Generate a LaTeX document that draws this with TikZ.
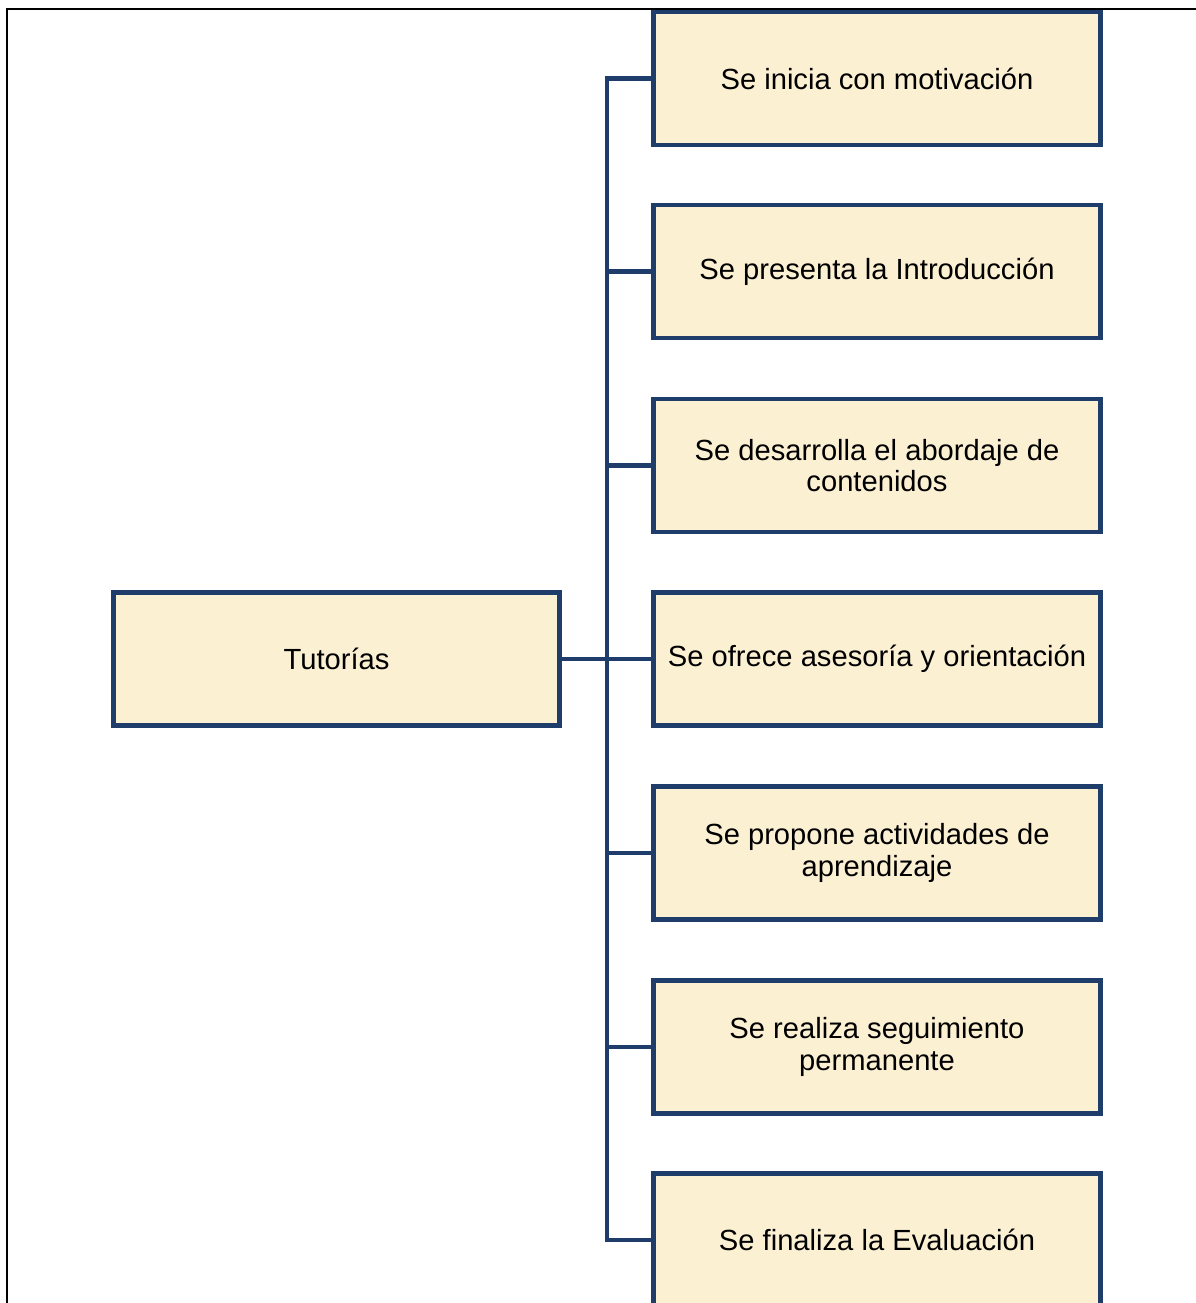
\documentclass[tikz,border=0pt]{standalone}
\usepackage{fontspec}
\setmainfont{Liberation Sans}
\usepackage{tikz}
\usetikzlibrary{positioning, calc}
\definecolor{azulBorde}{HTML}{1F3D6B}
\definecolor{cremaCaja}{HTML}{FCF0D3}

\begin{document}
\begin{tikzpicture}[x=0.02cm, y=-0.02cm,
        font=\fontsize{16.6}{17.8}\selectfont,
        paso/.style={draw=azulBorde, fill=cremaCaja, line width=2.8pt, inner sep=0pt,
            minimum width=8.94cm, minimum height=2.66cm, align=center},
        enlace/.style={draw=azulBorde, line width=2.8pt}]
        \useasboundingbox (0,0) rectangle (1196,1303);
        \draw[black, line width=1.1pt] (7,1303) -- (7,9) -- (1196,9);
        \node[paso] (tut) at (336.5,659) {Tutorías};
        \node[paso] (c1) at (877,78.5) {Se inicia con motivación};
        \node[paso] (c2) at (877,271.5) {Se presenta la Introducción};
        \node[paso] (c3) at (877,465.5) {Se desarrolla el abordaje de\\contenidos};
        \node[paso] (c4) at (877,659) {Se ofrece asesoría y orientación};
        \node[paso] (c5) at (877,853) {Se propone actividades de\\aprendizaje};
        \node[paso] (c6) at (877,1047) {Se realiza seguimiento\\permanente};
        \node[paso] (c7) at (877,1240) {Se finaliza la Evaluación};
        \coordinate (tronco) at (607,659);
        \draw[enlace] (tut.east) -- (c4.west);
        \draw[enlace] (c1.west) -| (tronco) |- (c7.west);
        \foreach \n in {c2,c3,c5,c6} \draw[enlace] (\n.west) -- (\n.west -| tronco);
    \end{tikzpicture}
\end{document}
